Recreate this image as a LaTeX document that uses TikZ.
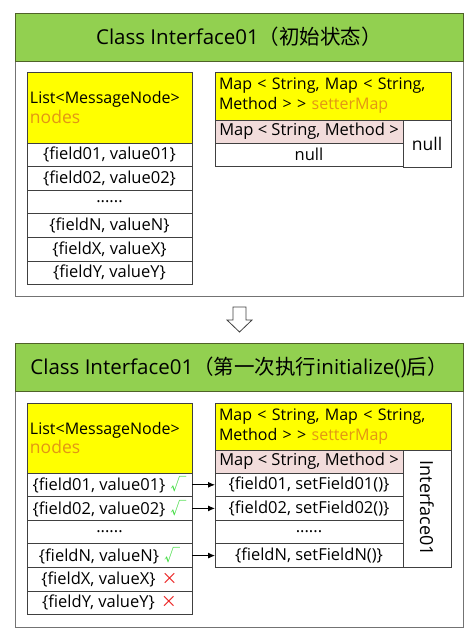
\documentclass[tikz,border=0pt]{standalone}
\usepackage{fontspec}
\setmainfont{Open Sans}
\newfontfamily\cjk{Noto Sans CJK SC}
\usetikzlibrary{arrows.meta,positioning}

\definecolor{hdgreen}{RGB}{146,208,80}
\definecolor{hdline}{RGB}{79,98,40}
\definecolor{keyyellow}{RGB}{255,255,0}
\definecolor{mappink}{RGB}{242,220,219}
\definecolor{varorange}{RGB}{226,150,20}
\definecolor{okgreen}{RGB}{70,220,70}
\definecolor{badred}{RGB}{235,30,30}
\definecolor{boxline}{RGB}{64,64,64}

\newcommand{\markok}{\hspace{5pt}\textcolor{okgreen}{\cjk\fontsize{16}{16}\selectfont √}}
\newcommand{\markno}{\hspace{6pt}\textcolor{badred}{\cjk\fontsize{16}{16}\selectfont ×}}
\newcommand{\rowdots}{......}

\tikzset{
  panel/.style={draw=black!55, line width=0.9pt, minimum width=448pt,
    inner sep=0pt, outer sep=0pt, anchor=north west},
  titlebar/.style={draw=hdline, fill=hdgreen, line width=1pt, minimum width=448pt,
    minimum height=48pt, inner sep=0pt, outer sep=0pt, anchor=north,
    font=\fontsize{20.5}{24}\selectfont},
  cell/.style={draw=boxline, line width=0.9pt, inner sep=0pt, outer sep=0pt,
    minimum height=23.6pt, font=\fontsize{16.5}{18}\selectfont},
  listrow/.style={cell, minimum width=165pt},
  maprow/.style={cell, minimum width=188pt},
  listhead/.style={cell, fill=keyyellow, anchor=north west, align=left,
    text width=159pt, inner xsep=3pt, font=\fontsize{16}{20}\selectfont},
  maphead/.style={cell, fill=keyyellow, anchor=north west, align=left,
    text width=228pt, inner xsep=4pt, minimum height=48pt,
    font=\fontsize{16}{20}\selectfont},
  pinkrow/.style={maprow, fill=mappink, anchor=north west, minimum height=23pt,
    font=\fontsize{16.5}{18}\selectfont},
  sidecol/.style={cell, anchor=north west, minimum width=48pt,
    font=\fontsize{17.5}{19}\selectfont},
  link/.style={-{Latex[length=7pt,width=6pt]}, line width=0.9pt, black}
}

\begin{document}
\begin{tikzpicture}[x=1pt, y=-1pt]
\useasboundingbox (0,0) rectangle (474,633);

% =====================
% STATO INIZIALE
% =====================
\node[panel, minimum height=283pt] (panelA) at (15,13) {};
\node[titlebar] (titleA) at (panelA.north) {Class Interface01{\cjk（初始状态）}};

\node[listhead, minimum height=71pt] (lA0) at (27,72)
  {List<MessageNode>\\\textcolor{varorange}{\fontsize{17.5}{20}\selectfont nodes}};
\foreach \t [count=\i, remember=\i as \j (initially 0)] in
  {{\{field01, value01\}}, {\{field02, value02\}}, {\rowdots},
   {\{fieldN, valueN\}}, {\{fieldX, valueX\}}, {\{fieldY, valueY\}}}
  \node[listrow, below=0pt of lA\j] (lA\i) {\t};

\node[maphead] (mA0) at (215,72)
  {Map < String, Map < String,\\Method > > \textcolor{varorange}{setterMap}};
\node[pinkrow] (mA1) at (mA0.south west) {Map < String, Method >};
\node[maprow, below=0pt of mA1] (mA2) {null};
\node[sidecol, minimum height=47pt] (nullA) at (mA1.north east) {null};

% =====================
% FRECCIA
% =====================
\coordinate (dn) at (239.5,307);
\draw[boxline, fill=white, line width=0.8pt]
  (dn) ++(-6.5,0) -- ++(13,0) -- ++(0,13) -- ++(6,0) -- ++(-12.5,12)
  -- ++(-12.5,-12) -- ++(6,0) -- cycle;

% =====================
% DOPO initialize()
% =====================
\node[panel, minimum height=284pt] (panelB) at (15,343) {};
\node[titlebar] (titleB) at (panelB.north)
  {Class Interface01{\cjk（第一次执行}initialize(){\cjk 后）}};

\node[listhead, minimum height=70pt] (lB0) at (27,403)
  {List<MessageNode>\\\textcolor{varorange}{\fontsize{17.5}{20}\selectfont nodes}};
\foreach \t/\m [count=\i, remember=\i as \j (initially 0)] in
  {{\{field01, value01\}}/\markok, {\{field02, value02\}}/\markok, {\rowdots}/{},
   {\{fieldN, valueN\}}/\markok, {\{fieldX, valueX\}}/\markno, {\{fieldY, valueY\}}/\markno}
  \node[listrow, below=0pt of lB\j] (lB\i) {\t\m};

\node[maphead, minimum height=47pt] (mB0) at (215,403)
  {Map < String, Map < String,\\Method > > \textcolor{varorange}{setterMap}};
\node[pinkrow] (mB1) at (mB0.south west) {Map < String, Method >};
\foreach \t [count=\i from 2, remember=\i as \j (initially 1)] in
  {{\{field01, setField01()\}}, {\{field02, setField02()\}}, {\rowdots},
   {\{fieldN, setFieldN()\}}}
  \node[maprow, below=0pt of mB\j] (mB\i) {\t};
\node[sidecol, minimum height=117pt, font=\fontsize{18}{20}\selectfont] (ifaceB)
  at (mB1.north east) {\rotatebox{-90}{Interface01}};

% collegamenti
\draw[link] (lB1.east) -- (mB2.west);
\draw[link] (lB2.east) -- (mB3.west);
\draw[link] (lB4.east) -- (mB5.west);

\end{tikzpicture}
\end{document}
